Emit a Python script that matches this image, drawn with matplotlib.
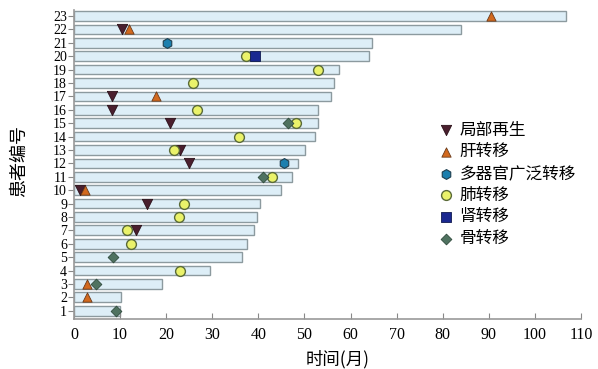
import matplotlib.pyplot as plt
import numpy as np

plt.rcParams['font.family'] = ['Liberation Serif', 'Noto Sans CJK SC']

# 患者 1..23 的随访时间(月)
patients = np.arange(1, 24)
months = [10.0, 10.2, 19.1, 29.6, 36.5, 37.6, 39.1, 39.6, 40.4, 45.0, 47.2, 48.5,
          50.2, 52.2, 53.0, 53.0, 55.7, 56.5, 57.4, 63.9, 64.6, 83.9, 106.7]

# 事件 (患者编号, 时间)
local_p = [7, 9, 10, 12, 13, 15, 16, 17, 22]
local_t = [13.4, 15.9, 1.4, 25.0, 23.0, 20.8, 8.2, 8.2, 10.4]
liver_p = [2, 3, 10, 17, 22, 23]
liver_t = [2.9, 2.8, 2.4, 17.8, 12.0, 90.4]
multi_p = [12, 21]
multi_t = [45.6, 20.2]
lung_p = [4, 6, 7, 8, 9, 11, 13, 14, 15, 16, 18, 19, 20]
lung_t = [23.0, 12.3, 11.6, 22.8, 23.8, 42.9, 21.7, 35.7, 48.2, 26.7, 25.9, 53.0, 37.4]
kidney_p = [20]
kidney_t = [39.3]
bone_p = [1, 3, 5, 11, 15]
bone_t = [9.1, 4.7, 8.5, 41.1, 46.4]

fig = plt.figure(figsize=(5.98, 3.69), dpi=100)
ax = fig.add_axes([0.1237, 0.1355, 0.8479, 0.8375])

ax.barh(patients, months, height=0.72, left=0, color='#ddeef7',
        edgecolor='#8c9a9f', linewidth=1.0, zorder=1)

ax.scatter(local_t, local_p, marker='v', s=55, color='#4a1f2e', edgecolor='#2a1018',
           linewidth=0.6, zorder=3, label='局部再生')
ax.scatter(liver_t, liver_p, marker='^', s=45, color='#d2691e', edgecolor='#6a3a1a',
           linewidth=0.6, zorder=3, label='肝转移')
ax.scatter(multi_t, multi_p, marker='h', s=50, color='#1b7fae', edgecolor='#1f3f4f',
           linewidth=0.8, zorder=3, label='多器官广泛转移')
ax.scatter(lung_t, lung_p, marker='o', s=50, color='#eaf26a', edgecolor='#5a6a38',
           linewidth=1.0, zorder=3, label='肺转移')
ax.scatter(kidney_t, kidney_p, marker='s', s=55, color='#1a2890', edgecolor='#101a50',
           linewidth=0.6, zorder=3, label='肾转移')
ax.scatter(bone_t, bone_p, marker='D', s=30, color='#4f7260', edgecolor='#2f4a3c',
           linewidth=0.6, zorder=3, label='骨转移')

ax.set_xlim(0, 110)
ax.set_ylim(0.38, 23.45)
ax.set_xticks(np.arange(0, 111, 10))
ax.set_yticks(patients)
ax.tick_params(axis='x', direction='in', length=4, color='#888888', labelsize=11.5, pad=6)
ax.tick_params(axis='y', direction='out', length=4, color='#888888', labelsize=10, pad=1)

for s in ['top', 'right']:
    ax.spines[s].set_visible(False)
for s in ['left', 'bottom']:
    ax.spines[s].set_color('#999999')
    ax.spines[s].set_linewidth(1.2)

ax.set_xlabel('时间(月)', fontsize=12.5, family=['Noto Sans CJK SC'], labelpad=1)
ax.xaxis.set_label_coords(0.52, -0.1)
ax.set_ylabel('患者编号', fontsize=13, family=['Noto Sans CJK SC'], labelpad=2)
ax.yaxis.set_label_coords(-0.09, 0.51)

ax.legend(loc='upper left', bbox_to_anchor=(0.701, 0.66), frameon=False,
          prop={'family': ['Noto Sans CJK SC'], 'size': 12},
          handletextpad=0.2, labelspacing=0.28, borderaxespad=0, handlelength=1.2)

fig.savefig('out.png', dpi=100)
